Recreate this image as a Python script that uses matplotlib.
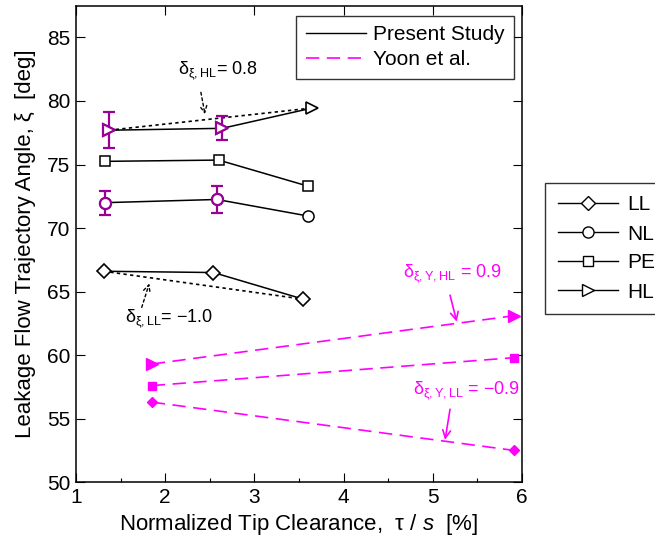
import matplotlib
matplotlib.use("Agg")
import matplotlib.pyplot as plt
import numpy as np
from matplotlib.lines import Line2D
from matplotlib.ticker import MultipleLocator

plt.rcParams['font.family'] = ['Liberation Sans', 'DejaVu Sans']
plt.rcParams['mathtext.fontset'] = 'custom'
plt.rcParams['mathtext.rm'] = 'Liberation Sans'
plt.rcParams['mathtext.it'] = 'Liberation Sans:italic'
plt.rcParams['mathtext.bf'] = 'Liberation Sans:bold'

# ---- data: present study ----
ll_x = [1.31, 2.54, 3.55]
ll_y = [66.6, 66.5, 64.4]
nl_x = [1.33, 2.58, 3.60]
nl_y = [72.0, 72.25, 70.95]
nl_err = [0.95, 1.05]
pe_x = [1.33, 2.60, 3.60]
pe_y = [75.25, 75.35, 73.3]
hl_x = [1.37, 2.64, 3.65]
hl_y = [77.7, 77.85, 79.45]
hl_err = [1.4, 0.95]

# ---- data: Yoon et al. ----
yoon_x = [1.85, 5.91]
yoon_hl = [59.3, 63.1]
yoon_pe = [57.6, 59.8]
yoon_ll = [56.3, 52.5]

purple = '#990099'
magenta = '#FF00FF'

fig = plt.figure(figsize=(6.55, 5.43), dpi=100)
ax = fig.add_axes([0.116, 0.112, 0.681, 0.8775])

lw = 1.1
# present study lines
ax.plot(ll_x, ll_y, '-', color='black', lw=lw, marker='D', ms=7.5, mfc='white', mec='black', mew=1.2, zorder=3)
ax.plot(nl_x, nl_y, '-', color='black', lw=lw, marker='o', ms=8, mfc='white', mec='black', mew=1.1, zorder=3)
ax.plot(pe_x, pe_y, '-', color='black', lw=lw, marker='s', ms=6.5, mfc='white', mec='black', mew=1.1, zorder=3)
ax.plot(hl_x, hl_y, '-', color='black', lw=lw, marker='>', ms=9, mfc='white', mec='black', mew=1.2, zorder=3)

# trend (dotted) lines between first and last points
ax.plot([hl_x[0], hl_x[-1]], [hl_y[0], hl_y[-1]], color='black', lw=1.2, dashes=(2, 2), zorder=2)
ax.plot([ll_x[0], ll_x[-1]], [ll_y[0], ll_y[-1]], color='black', lw=1.2, dashes=(2, 2), zorder=2)

# error bars
ax.errorbar(nl_x[:2], nl_y[:2], yerr=nl_err, fmt='o', ms=8, mfc='white', mec=purple, mew=1.6,
            ecolor=purple, elinewidth=1.6, capsize=4, capthick=1.6, zorder=4)
ax.errorbar(hl_x[:2], hl_y[:2], yerr=hl_err, fmt='>', ms=9, mfc='white', mec=purple, mew=1.6,
            ecolor=purple, elinewidth=1.6, capsize=4, capthick=1.6, zorder=4)

# Yoon et al.
dash = (8, 4.5)
ax.plot(yoon_x, yoon_hl, color=magenta, lw=1.2, dashes=dash, marker='>', ms=8, mfc=magenta, mec=magenta, zorder=3)
ax.plot(yoon_x, yoon_pe, color=magenta, lw=1.2, dashes=dash, marker='s', ms=5.5, mfc=magenta, mec=magenta, zorder=3)
ax.plot(yoon_x, yoon_ll, color=magenta, lw=1.2, dashes=dash, marker='D', ms=5.5, mfc=magenta, mec=magenta, zorder=3)

# annotations
fs_a = 13
arr_k = dict(arrowstyle='->', color='black', lw=1.0, linestyle=(0, (2, 2)), mutation_scale=12, shrinkA=0, shrinkB=0)
ax.text(2.143, 82.08, r'$\mathrm{\delta_{\xi,HL}}$= 0.8', fontsize=fs_a, ha='left', va='baseline')
ax.annotate('', xy=(2.446, 78.96), xytext=(2.40, 80.68), arrowprops=arr_k)
ax.text(1.549, 62.58, r'$\mathrm{\delta_{\xi,LL}}$= $-$1.0', fontsize=fs_a, ha='left', va='baseline')
ax.annotate('', xy=(1.822, 65.64), xytext=(1.737, 63.76), arrowprops=arr_k)

arr_m = dict(arrowstyle='->', color=magenta, lw=1.2, mutation_scale=14, shrinkA=0, shrinkB=0)
ax.text(4.666, 66.12, r'$\mathrm{\delta_{\xi,Y,HL}}$ = 0.9', fontsize=fs_a, ha='left', va='baseline', color=magenta)
ax.annotate('', xy=(5.268, 62.63), xytext=(5.193, 64.72), arrowprops=arr_m)
ax.text(4.775, 56.94, r'$\mathrm{\delta_{\xi,Y,LL}}$ = $-$0.9', fontsize=fs_a, ha='left', va='baseline', color=magenta)
ax.annotate('', xy=(5.137, 53.33), xytext=(5.193, 55.74), arrowprops=arr_m)

# axes
fs = 15
ax.set_xlim(1, 6)
ax.set_ylim(50, 87.5)
ax.xaxis.set_major_locator(MultipleLocator(1))
ax.xaxis.set_minor_locator(MultipleLocator(0.5))
ax.yaxis.set_major_locator(MultipleLocator(5))
ax.tick_params(which='major', direction='in', length=6.5, width=0.8, top=True, right=True,
               labelsize=fs, pad=4)
ax.tick_params(which='minor', direction='in', length=3.2, width=0.8, top=False, right=False)
for s in ax.spines.values():
    s.set_linewidth(1.1)
ax.set_xlabel(r'Normalized Tip Clearance,  $\mathrm{\tau}$ $\it{/}$ $\it{s}$  [%]', fontsize=16, labelpad=4)
ax.set_ylabel('Leakage Flow Trajectory Angle, ξ  [deg]', fontsize=16, labelpad=8)

# legend 1 (top right inside)
h1 = [Line2D([], [], color='black', lw=1.0),
      Line2D([], [], color=magenta, lw=1.2, dashes=(8, 4.5))]
leg1 = ax.legend(h1, ['Present Study', 'Yoon et al.'], loc='upper right',
                 bbox_to_anchor=(0.983, 0.979), fontsize=fs, frameon=True, fancybox=False,
                 edgecolor='black', handlelength=2.9, handletextpad=0.35, borderpad=0.45,
                 labelspacing=0.3, borderaxespad=0)
leg1.get_frame().set_linewidth(1.0)

# legend 2 (figure right)
h2 = [Line2D([], [], color='black', lw=1.0, marker='D', ms=7, mfc='white', mec='black'),
      Line2D([], [], color='black', lw=1.0, marker='o', ms=8, mfc='white', mec='black'),
      Line2D([], [], color='black', lw=1.0, marker='s', ms=6.5, mfc='white', mec='black'),
      Line2D([], [], color='black', lw=1.0, marker='>', ms=8, mfc='white', mec='black')]
leg2 = fig.legend(h2, ['LL', 'NL', 'PE', 'HL'], loc='upper left',
                  bbox_to_anchor=(545 / 655, 1 - 183 / 543), fontsize=fs, frameon=True,
                  fancybox=False, edgecolor='black', handlelength=2.9, handletextpad=0.43,
                  borderpad=0.6, labelspacing=0.48, borderaxespad=0)
leg2.get_frame().set_linewidth(1.0)

fig.savefig('out.png', dpi=100)
